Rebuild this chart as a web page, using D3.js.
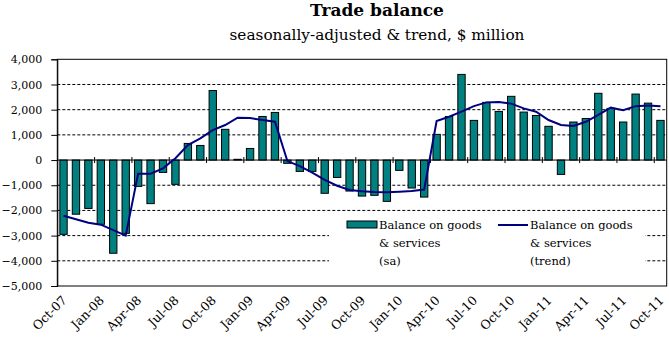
<!DOCTYPE html>
<html>
<head>
<meta charset="utf-8">
<script src="https://cdn.jsdelivr.net/npm/d3@7"></script>
<style>
  body { margin: 0; background: #fff; }
  text { font-family: "DejaVu Serif", "Liberation Serif", serif; fill: #000; }
</style>
</head>
<body>
<div class="wrapper"></div>
<script>
let width = 669;
let height = 345;

let months = [
    "Oct-07","Nov-07","Dec-07","Jan-08","Feb-08","Mar-08","Apr-08","May-08","Jun-08",
    "Jul-08","Aug-08","Sep-08","Oct-08","Nov-08","Dec-08","Jan-09","Feb-09","Mar-09",
    "Apr-09","May-09","Jun-09","Jul-09","Aug-09","Sep-09","Oct-09","Nov-09","Dec-09",
    "Jan-10","Feb-10","Mar-10","Apr-10","May-10","Jun-10","Jul-10","Aug-10","Sep-10",
    "Oct-10","Nov-10","Dec-10","Jan-11","Feb-11","Mar-11","Apr-11","May-11","Jun-11",
    "Jul-11","Aug-11","Sep-11","Oct-11"
];

// seasonally adjusted balance, $m
let balanceSa = [
    -2950, -2150, -1920, -2550, -3700, -2910, -1045, -1730, -490,
    -965, 660, 580, 2760, 1220, 30, 460, 1730, 1890,
    -130, -450, -450, -1320, -690, -1230, -1430, -1400, -1640,
    -410, -1110, -1470, 1020, 1730, 3400, 1575, 2290, 1930,
    2530, 1905, 1770, 1340, -570, 1510, 1650, 2650, 2050,
    1510, 2620, 2260, 1575
];

// trend balance, $m
let balanceTrend = [
    -2210, -2350, -2490, -2565, -2780, -3000, -540, -540, -330,
    70, 595, 860, 1190, 1390, 1680, 1667, 1590, 1520,
    -40, -240, -500, -790, -1020, -1190, -1240, -1270, -1280,
    -1260, -1230, -1170, 1550, 1720, 1920, 2140, 2290, 2300,
    2240, 2050, 1920, 1590, 1390, 1350, 1520, 1790, 2080,
    1980, 2140, 2170, 2140
];

let yTicks = [4000, 3000, 2000, 1000, 0, -1000, -2000, -3000, -4000, -5000];

let legendLabels = [
    ["Balance on goods", "& services", "(sa)"],
    ["Balance on goods", "& services", "(trend)"]
];

let plot = {left: 57.3, right: 666.7, top: 59.3, bottom: 286};

let svg = d3.select(".wrapper")
    .append("svg")
    .attr("width", width)
    .attr("height", height);

let x = d3.scaleBand()
    .domain(months)
    .range([plot.left, plot.right])
    .paddingInner(0.41)
    .paddingOuter(0.205);

let y = d3.scaleLinear()
    .domain([-5000, 4000])
    .range([plot.bottom, plot.top]);

let step = x.step();
let fmt = d3.format(",");

// title
svg.append("text")
    .attr("x", 377)
    .attr("y", 16)
    .attr("text-anchor", "middle")
    .style("font-size", "17px")
    .style("font-weight", "bold")
    .text("Trade balance");

svg.append("text")
    .attr("x", 377)
    .attr("y", 40)
    .attr("text-anchor", "middle")
    .style("font-size", "15.3px")
    .text("seasonally-adjusted & trend, $ million");

// gridlines
svg.selectAll(".grid")
    .data(yTicks.filter(d => d !== 0 && d !== 4000 && d !== -5000))
    .enter()
    .append("line")
    .classed("grid", true)
    .attr("x1", plot.left)
    .attr("x2", plot.right)
    .attr("y1", d => y(d))
    .attr("y2", d => y(d))
    .attr("stroke", "#000")
    .attr("stroke-width", 1)
    .attr("stroke-dasharray", "3,2");

// frame
svg.append("rect")
    .attr("x", plot.left)
    .attr("y", plot.top)
    .attr("width", plot.right - plot.left)
    .attr("height", plot.bottom - plot.top)
    .attr("fill", "none")
    .attr("stroke", "#000")
    .attr("stroke-width", 1);

// legend background (covers gridlines)
svg.append("rect")
    .attr("x", 329)
    .attr("y", 213)
    .attr("width", 316)
    .attr("height", 62)
    .attr("fill", "#fff");

// y axis
let yAxis = d3.axisLeft(y)
    .tickValues(yTicks)
    .tickFormat(fmt)
    .tickSize(6)
    .tickPadding(9);

let yG = svg.append("g")
    .attr("transform", "translate(" + plot.left + ",0)")
    .call(yAxis);
yG.select(".domain").attr("stroke", "#000");
yG.selectAll("text")
    .style("font-size", "11px")
    .style("font-family", "DejaVu Serif, serif");

// bars
svg.selectAll(".bar")
    .data(balanceSa)
    .enter()
    .append("rect")
    .classed("bar", true)
    .attr("x", (d, i) => x(months[i]))
    .attr("width", x.bandwidth())
    .attr("y", d => y(Math.max(0, d)))
    .attr("height", d => Math.abs(y(d) - y(0)))
    .attr("fill", "#008080")
    .attr("stroke", "#000")
    .attr("stroke-width", 1);

// zero line with category ticks
svg.append("line")
    .attr("x1", plot.left)
    .attr("x2", plot.right)
    .attr("y1", y(0))
    .attr("y2", y(0))
    .attr("stroke", "#000")
    .attr("stroke-width", 1);

let tickIdx = d3.range(3, months.length + 1, 3);
svg.selectAll(".ctick")
    .data(tickIdx)
    .enter()
    .append("line")
    .classed("ctick", true)
    .attr("x1", i => plot.left + i * step)
    .attr("x2", i => plot.left + i * step)
    .attr("y1", y(0) - 3)
    .attr("y2", y(0) + 3)
    .attr("stroke", "#000");

// trend line
let line = d3.line()
    .x((d, i) => x(months[i]) + x.bandwidth() / 2)
    .y(d => y(d));

svg.append("path")
    .datum(balanceTrend)
    .attr("d", line)
    .attr("fill", "none")
    .attr("stroke", "#000080")
    .attr("stroke-width", 2);

// x labels, every third month
let labelIdx = d3.range(0, months.length, 3);
svg.selectAll(".xlabel")
    .data(labelIdx)
    .enter()
    .append("text")
    .classed("xlabel", true)
    .attr("transform", i => "translate(" + (x(months[i]) + x.bandwidth() / 2 + 1) + "," + (plot.bottom + 12) + ") rotate(-45)")
    .attr("text-anchor", "end")
    .attr("dy", "0.35em")
    .style("font-size", "12.5px")
    .text(i => months[i]);

// legend
let leg = svg.append("g");
leg.append("rect")
    .attr("x", 347)
    .attr("y", 221)
    .attr("width", 30)
    .attr("height", 7)
    .attr("fill", "#008080")
    .attr("stroke", "#000")
    .attr("stroke-width", 1);

leg.append("line")
    .attr("x1", 498)
    .attr("x2", 528)
    .attr("y1", 225)
    .attr("y2", 225)
    .attr("stroke", "#000080")
    .attr("stroke-width", 2);

let legX = [379, 530];
legendLabels.forEach((rows, k) => {
    leg.selectAll(".leg" + k)
        .data(rows)
        .enter()
        .append("text")
        .attr("x", legX[k])
        .attr("y", (d, j) => 225 + j * 18)
        .attr("dy", "0.35em")
        .style("font-size", "11.5px")
        .text(d => d);
});
</script>
</body>
</html>
